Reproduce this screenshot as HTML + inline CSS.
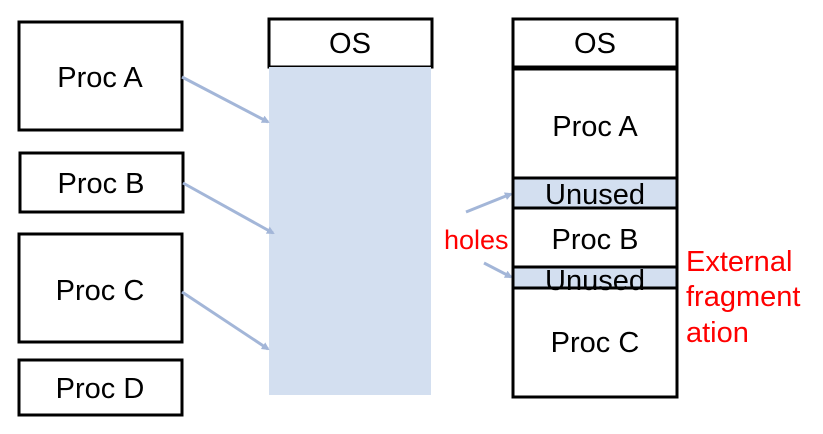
<!DOCTYPE html>
<html><head><meta charset="utf-8"><style>
body{margin:0;background:#fff;width:823px;height:434px;overflow:hidden}
svg{display:block}
text{font-family:"Liberation Sans",Arial,sans-serif;font-size:29px;fill:#000}
</style></head><body>
<svg width="823" height="434" viewBox="0 0 823 434">
<defs><marker id="ah" markerWidth="8" markerHeight="8" refX="6" refY="4" orient="auto" markerUnits="userSpaceOnUse"><path d="M0,0 L8,4 L0,8 z" fill="#a3b6d8"/></marker></defs>
<g fill="#fff" stroke="#000" stroke-width="3">
<rect x="19" y="22" width="163" height="108"/>
<rect x="20" y="153" width="163" height="59"/>
<rect x="19" y="234" width="163" height="108"/>
<rect x="19" y="360" width="163" height="55"/>
<rect x="269" y="19" width="163" height="48"/>
</g>
<rect x="269" y="67" width="162" height="328" fill="#d3dff0"/>
<g stroke="#a3b6d8" stroke-width="3" fill="none" marker-end="url(#ah)">
<line x1="182" y1="77" x2="268" y2="122"/>
<line x1="183" y1="183" x2="273" y2="233"/>
<line x1="182" y1="292" x2="268" y2="349"/>
<line x1="466" y1="212" x2="511" y2="194"/>
<line x1="484" y1="263" x2="511" y2="277"/>
</g>
<g stroke="#000" stroke-width="3">
<rect x="513" y="19" width="164" height="378" fill="#fff"/>
<rect x="513" y="178" width="164" height="30" fill="#d3dff0"/>
<rect x="513" y="267" width="164" height="21" fill="#d3dff0"/>
<line x1="513" y1="68" x2="677" y2="68" stroke-width="5"/>
</g>
<g text-anchor="middle">
<text x="100" y="87">Proc A</text>
<text x="101" y="193">Proc B</text>
<text x="100" y="300">Proc C</text>
<text x="100" y="398">Proc D</text>
<text x="350" y="53">OS</text>
<text x="595" y="53">OS</text>
<text x="595" y="136">Proc A</text>
<text x="595" y="204">Unused</text>
<text x="595" y="249">Proc B</text>
<text x="595" y="290">Unused</text>
<text x="595" y="352">Proc C</text>
</g>
<text x="444" y="249" style="fill:#f00;font-size:27px">holes</text>
<text x="686" y="271" style="fill:#f00;font-size:29px">External</text>
<text x="686" y="306" style="fill:#f00;font-size:29px">fragment</text>
<text x="686" y="342" style="fill:#f00;font-size:29px">ation</text>
</svg>
</body></html>
